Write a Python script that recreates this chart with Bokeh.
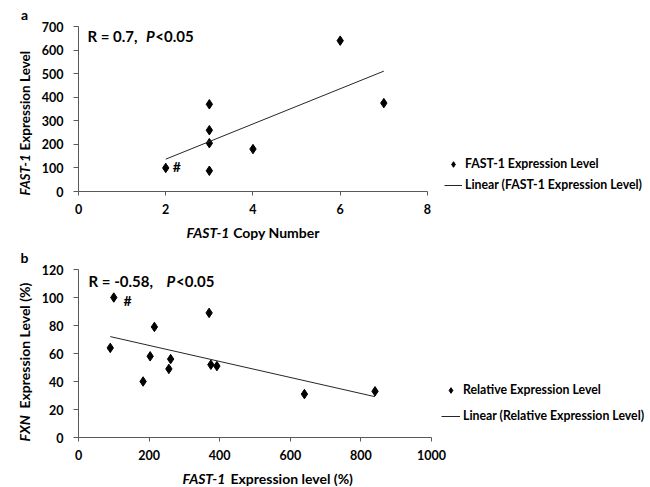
import numpy as np
from bokeh.plotting import figure
from bokeh.layouts import column
from bokeh.models import Legend, LegendItem, Range1d, FixedTicker
from bokeh.core.properties import value
from bokeh.embed import file_html
from bokeh.resources import INLINE

# ---- data ----
copy_number = [2, 3, 3, 3, 3, 4, 6, 7]
fast1_expr = [100, 88, 205, 260, 370, 180, 640, 375]

fast1_pct = [90, 100, 183, 203, 215, 256, 261, 370, 375, 392, 640, 840]
fxn_pct = [64, 100, 40, 58, 79, 49, 56, 89, 52, 51, 31, 33]

a_xticks = [0, 2, 4, 6, 8]
a_yticks = [0, 100, 200, 300, 400, 500, 600, 700]
b_xticks = [0, 200, 400, 600, 800, 1000]
b_yticks = [0, 20, 40, 60, 80, 100, 120]

FONT = "Lato"
AX = "#595959"


def style_axes(p, xticks, yticks):
    p.xgrid.visible = False
    p.ygrid.visible = False
    p.outline_line_color = None
    p.xaxis.ticker = FixedTicker(ticks=xticks)
    p.yaxis.ticker = FixedTicker(ticks=yticks)
    p.xaxis.bounds = (xticks[0], xticks[-1])
    for ax in (p.xaxis[0], p.yaxis[0]):
        ax.axis_line_color = AX
        ax.major_tick_line_color = AX
        ax.minor_tick_line_color = None
        ax.major_tick_in = 0
        ax.major_label_text_font = FONT
        ax.major_label_text_font_style = "bold"
        ax.major_label_text_font_size = "12.5px"
        ax.major_label_text_color = "black"
    p.xaxis.major_tick_out = 4
    p.xaxis.major_label_standoff = 8
    p.yaxis.major_tick_out = 5
    p.yaxis.major_label_standoff = 10


def put(p, conv, X, Y, txt, style="bold", size="14px", angle=0.0, align="left"):
    """Text placed at a page-pixel position, converted to the panel's data units."""
    x, y = conv(X, Y)
    p.text(x=[x], y=[y], text=[txt], text_font=value(FONT), text_font_style=style,
           text_font_size=size, text_color="black", angle=angle,
           text_align=align, text_baseline="middle", level="overlay")


def legend_for(items, loc, spacing, gw):
    return Legend(items=items, location=loc, orientation="vertical", margin=0, padding=0,
                  spacing=spacing, glyph_width=gw, glyph_height=14, label_height=14,
                  label_standoff=3, border_line_color=None, background_fill_alpha=0,
                  label_text_font=FONT, label_text_font_style="bold",
                  label_text_font_size="12.3px", label_text_color="black")


# ================= panel a (page y 0..245) =================
# plot frame spans to the right edge so the legend sits inside it; the x axis is bounded to 0..8
A_H = 245
A_XEND = 8 * (650 - 73) / (425 - 73)
pa = figure(width=650, height=A_H, x_range=Range1d(0, A_XEND), y_range=Range1d(0, 700),
            output_backend="svg", toolbar_location=None,
            min_border_left=73, min_border_right=0, min_border_top=26,
            min_border_bottom=A_H - 191)
style_axes(pa, a_xticks, a_yticks)


def a_xy(X, Y):  # page pixel -> panel a data
    return (X - 73) / (425 - 73) * 8, (191 - Y) / (191 - 26) * 700


ra = pa.scatter(copy_number, fast1_expr, marker="diamond", size=9.5, color="black")
ka, ba = np.polyfit(copy_number, fast1_expr, 1)
xa = np.array([min(copy_number), max(copy_number)])
la = pa.line(xa, ka * xa + ba, line_color="#262626", line_width=1)

pa.add_layout(legend_for([LegendItem(label="FAST-1 Expression Level", renderers=[ra]),
                          LegendItem(label="Linear (FAST-1 Expression Level)", renderers=[la])],
                         (439 - 73, 191 - 192), 6, 18))

put(pa, a_xy, 15, 14, "a")
put(pa, a_xy, 82, 35, "R = 0.7,", size="15px")
put(pa, a_xy, 141, 35, "P", style="bold italic", size="15px")
put(pa, a_xy, 150.5, 35, "<0.05", size="15px")
put(pa, a_xy, 168, 166, "#")
put(pa, a_xy, 182, 232, "FAST-1", style="bold italic")
put(pa, a_xy, 229, 232, "Copy Number")
put(pa, a_xy, 19, 195, "FAST-1", style="bold italic", size="13.5px", angle=np.pi / 2)
put(pa, a_xy, 19, 150, "Expression Level", size="13.5px", angle=np.pi / 2)

# ================= panel b (page y 245..487) =================
TOP_B = A_H
B_H = 487 - A_H
B_XEND = 1000 * (650 - 78) / (431 - 78)
pb = figure(width=650, height=B_H, x_range=Range1d(0, B_XEND), y_range=Range1d(0, 120),
            output_backend="svg", toolbar_location=None,
            min_border_left=78, min_border_right=0, min_border_top=269 - TOP_B,
            min_border_bottom=TOP_B + B_H - 437)
style_axes(pb, b_xticks, b_yticks)


def b_xy(X, Y):
    return (X - 78) / (431 - 78) * 1000, (437 - Y) / (437 - 269) * 120


rb = pb.scatter(fast1_pct, fxn_pct, marker="diamond", size=9.5, color="black")
kb, bb = np.polyfit(fast1_pct, fxn_pct, 1)
xb = np.array([min(fast1_pct), max(fast1_pct)])
lb = pb.line(xb, kb * xb + bb, line_color="#262626", line_width=1)

pb.add_layout(legend_for([LegendItem(label="Relative Expression Level", renderers=[rb]),
                          LegendItem(label="Linear (Relative Expression Level)", renderers=[lb])],
                         (441 - 78, 437 - 423), 11, 19))

put(pb, b_xy, 20, 257, "b")
put(pb, b_xy, 88, 280, "R = -0.58,", size="15px")
put(pb, b_xy, 166, 280, "P", style="bold italic", size="15px")
put(pb, b_xy, 175.5, 280, "<0.05", size="15px")
put(pb, b_xy, 123, 300, "#")
put(pb, b_xy, 182, 478, "FAST-1", style="bold italic")
put(pb, b_xy, 230, 478, "Expression level (%)")
put(pb, b_xy, 24, 441, "FXN", style="bold italic", angle=np.pi / 2)
put(pb, b_xy, 24, 408, "Expression Level (%)", angle=np.pi / 2)

layout = column(pa, pb, spacing=0)
open("out.html", "w").write(file_html(layout, INLINE))
